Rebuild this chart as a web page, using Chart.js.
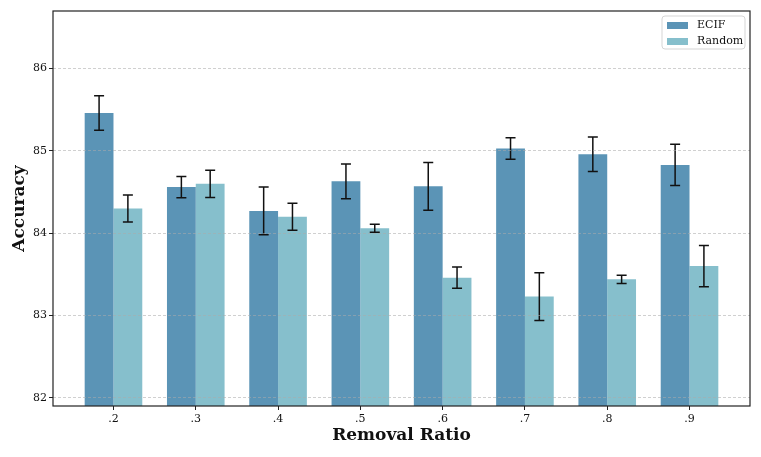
<!DOCTYPE html>
<html>
<head>
<meta charset="utf-8">
<script src="https://cdn.jsdelivr.net/npm/chart.js@4/dist/chart.umd.min.js"></script>
<style>
  html, body { margin: 0; padding: 0; background: #fff; }
  #wrap { width: 761px; height: 457px; }
</style>
</head>
<body>
<div id="wrap"><canvas id="grafico"></canvas></div>
<script>
// datos
const ratios = [".2", ".3", ".4", ".5", ".6", ".7", ".8", ".9"];
const ecif = [85.46, 84.56, 84.27, 84.63, 84.57, 85.03, 84.96, 84.83];
const ecifErr = [0.21, 0.13, 0.29, 0.21, 0.29, 0.13, 0.21, 0.25];
const random = [84.30, 84.60, 84.20, 84.06, 83.46, 83.23, 83.44, 83.60];
const randomErr = [0.165, 0.165, 0.165, 0.05, 0.13, 0.29, 0.05, 0.25];
const yTicks = [82, 83, 84, 85, 86];

const serif = "'DejaVu Serif', 'Liberation Serif', serif";
const colEcif = "#5b94b6";
const colRandom = "#86bfcc";

// barras de error + marco + leyenda
const extras = {
  id: "extras",
  afterDatasetsDraw(chart) {
    const ctx = chart.ctx;
    const y = chart.scales.y;
    ctx.save();
    ctx.strokeStyle = "#111";
    ctx.lineWidth = 1.5;
    chart.data.datasets.forEach((ds, d) => {
      const meta = chart.getDatasetMeta(d);
      meta.data.forEach((bar, i) => {
        const v = ds.data[i].y, e = ds.err[i];
        const top = y.getPixelForValue(v + e), bot = y.getPixelForValue(v - e);
        ctx.beginPath();
        ctx.moveTo(bar.x, top); ctx.lineTo(bar.x, bot);
        ctx.moveTo(bar.x - 5, top); ctx.lineTo(bar.x + 5, top);
        ctx.moveTo(bar.x - 5, bot); ctx.lineTo(bar.x + 5, bot);
        ctx.stroke();
      });
    });
    ctx.restore();
  },
  afterDraw(chart) {
    const ctx = chart.ctx;
    const a = chart.chartArea;
    ctx.save();
    ctx.strokeStyle = "#222";
    ctx.lineWidth = 1.2;
    ctx.strokeRect(a.left, a.top, a.right - a.left, a.bottom - a.top);

    // leyenda
    const lx = a.right - 88, ly = a.top + 5, lw = 83, lh = 33;
    ctx.beginPath();
    ctx.roundRect(lx, ly, lw, lh, 3);
    ctx.fillStyle = "rgba(255,255,255,0.85)";
    ctx.fill();
    ctx.strokeStyle = "#d5d5d5";
    ctx.lineWidth = 1;
    ctx.stroke();
    ctx.font = "11px " + serif;
    ctx.textBaseline = "middle";
    chart.data.datasets.forEach((ds, d) => {
      const cy = ly + 9.5 + d * 16;
      ctx.fillStyle = ds.backgroundColor;
      ctx.fillRect(lx + 5, cy - 3.5, 21, 7);
      ctx.fillStyle = "#111";
      ctx.fillText(ds.label, lx + 35, cy);
    });
    ctx.restore();
  }
};

new Chart(document.getElementById("grafico"), {
  type: "bar",
  data: {
    datasets: [
      {
        label: "ECIF",
        data: ecif.map((v, i) => ({ x: i, y: v })),
        err: ecifErr,
        backgroundColor: colEcif,
        borderWidth: 0
      },
      {
        label: "Random",
        data: random.map((v, i) => ({ x: i, y: v })),
        err: randomErr,
        backgroundColor: colRandom,
        borderWidth: 0
      }
    ]
  },
  options: {
    responsive: true,
    maintainAspectRatio: false,
    animation: false,
    categoryPercentage: 0.7,
    barPercentage: 1.0,
    layout: { padding: { top: 11, right: 11, left: 0, bottom: 0 } },
    plugins: {
      legend: { display: false },
      tooltip: { enabled: false }
    },
    scales: {
      x: {
        type: "linear",
        offset: false,
        min: -0.735,
        max: 7.735,
        afterBuildTicks: (s) => { s.ticks = ratios.map((r, i) => ({ value: i })); },
        afterFit: (s) => { s.height = 51; },
        ticks: {
          callback: (v) => ratios[v],
          font: { family: serif, size: 11 },
          color: "#111",
          padding: 3,
          maxRotation: 0
        },
        grid: {
          offset: false,
          drawOnChartArea: false,
          drawTicks: true,
          tickLength: 4,
          tickColor: "#222"
        },
        border: { display: false },
        title: {
          display: true,
          text: "Removal Ratio",
          font: { family: serif, size: 17, weight: "bold" },
          color: "#111",
          padding: { top: 0, bottom: 11 }
        }
      },
      y: {
        min: 81.9,
        max: 86.7,
        afterBuildTicks: (s) => { s.ticks = yTicks.map(v => ({ value: v })); },
        afterFit: (s) => { s.width = 53; },
        ticks: {
          font: { family: serif, size: 11 },
          color: "#111",
          padding: 2
        },
        grid: {
          z: 1,
          color: "rgba(170,170,170,0.7)",
          lineWidth: 0.8,
          tickLength: 4,
          tickColor: "#222",
          tickBorderDash: [],
          tickWidth: 1
        },
        border: { display: false, dash: [3, 2] },
        title: {
          display: true,
          text: "Accuracy",
          font: { family: serif, size: 17, weight: "bold" },
          color: "#111",
          padding: { top: 9, bottom: 0 }
        }
      }
    }
  },
  plugins: [extras]
});
</script>
</body>
</html>
